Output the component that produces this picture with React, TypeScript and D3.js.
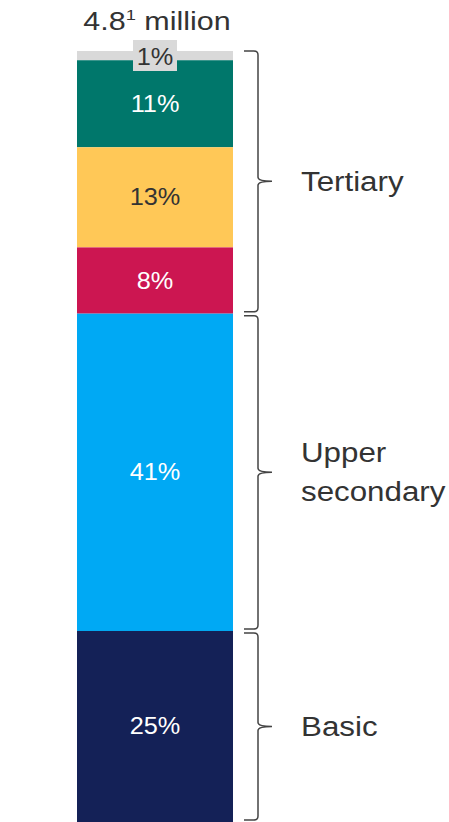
import * as d3 from "d3";

const segments = ["Other", "Tertiary A", "Tertiary B", "Tertiary C", "Upper secondary", "Basic"];
// shares as measured from the bar (labels are rounded)
const shares = [1.2, 11.3, 13.0, 8.6, 41.2, 24.8];
const shareLabels = ["1%", "11%", "13%", "8%", "41%", "25%"];
const colors = ["#d9d9d9", "#00776b", "#ffc857", "#cc1651", "#00a9f4", "#142157"];
const textColors = ["#333333", "#ffffff", "#333333", "#ffffff", "#ffffff", "#ffffff"];
const groupNames = [["Tertiary"], ["Upper", "secondary"], ["Basic"]];
const groupRanges = [[0, 3], [4, 4], [5, 5]];

const W = 449;
const H = 822;
const font = "'Liberation Sans', Arial, sans-serif";

function brace(x0: number, y0: number, y1: number) {
  const xv = x0 + 14;
  const tip = x0 + 28;
  const mid = (y0 + y1) / 2;
  const r = 4;
  return `M${x0},${y0} L${xv - r},${y0} Q${xv},${y0} ${xv},${y0 + r} L${xv},${mid - r} Q${xv},${mid} ${tip},${mid} Q${xv},${mid} ${xv},${mid + r} L${xv},${y1 - r} Q${xv},${y1} ${xv - r},${y1} L${x0},${y1}`;
}

export default function App() {
  const total = d3.sum(shares);
  const y = d3.scaleLinear().domain([0, total]).range([51, 822]);
  const x0 = 77;
  const x1 = 233;
  const cum = [0, ...d3.cumsum(shares)];

  return (
    <svg width={W} height={H} style={{ position: "absolute", left: 0, top: 0 }} fontFamily={font}>
      <g transform="translate(157,30) scale(1.22,1)">
        <text x={0} y={0} textAnchor="middle" fontSize={25} fill="#333">
          4.8<tspan fontSize={15} dy={-10}>1</tspan>
          <tspan dy={10}> million</tspan>
        </text>
      </g>
      {shares.map((v, i) => (
        <rect key={segments[i]} x={x0} y={y(cum[i])} width={x1 - x0} height={y(cum[i + 1]) - y(cum[i])} fill={colors[i]} />
      ))}
      <rect x={133} y={40} width={44} height={31} fill="#d9d9d9" />
      {shares.map((v, i) => {
        const base = i === 0 ? 65 : (y(cum[i]) + y(cum[i + 1])) / 2 + 8;
        return (
          <g key={"l" + i} transform={`translate(${(x0 + x1) / 2},${base}) scale(1.1,1)`}>
            <text x={0} y={0} textAnchor="middle" fontSize={23} fill={textColors[i]}>
              {shareLabels[i]}
            </text>
          </g>
        );
      })}
      {groupRanges.map(([a, b], g) => {
        const top = y(cum[a]) + (g === 0 ? 0 : 2);
        const bot = y(cum[b + 1]) - 2;
        const mid = (top + bot) / 2;
        const lines = groupNames[g];
        return (
          <g key={"g" + g}>
            <path d={brace(244, top, bot)} fill="none" stroke="#444" strokeWidth={1.5} />
            {lines.map((t, k) => (
              <g key={t} transform={`translate(301,${mid + 9.5 + (k - (lines.length - 1) / 2) * 39}) scale(1.16,1)`}>
                <text x={0} y={0} fontSize={27} fill="#333">
                  {t}
                </text>
              </g>
            ))}
          </g>
        );
      })}
    </svg>
  );
}
